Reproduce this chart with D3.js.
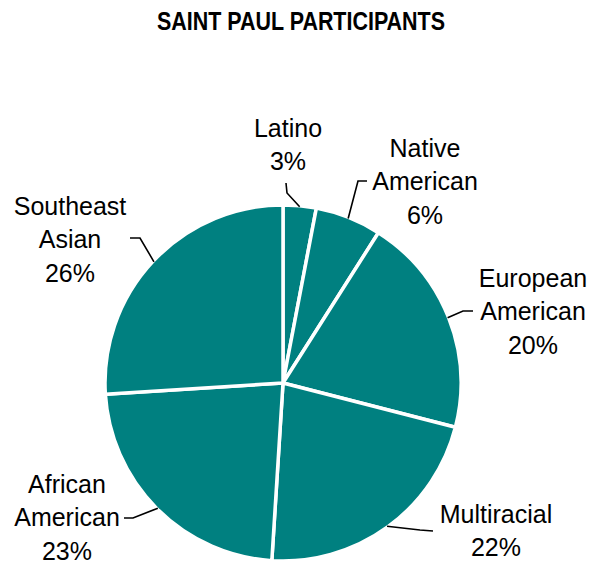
<!DOCTYPE html>
<html>
<head>
<meta charset="utf-8">
<script src="https://cdn.jsdelivr.net/npm/d3@7.9.0/dist/d3.min.js"></script>
<style>
  html, body { margin: 0; padding: 0; background: #fff; }
  svg { display: block; }
  .title { font-family: "Liberation Sans", Arial, sans-serif; font-weight: bold; font-size: 25px; }
  .label { font-family: "Liberation Sans", Arial, sans-serif; font-size: 25px; fill: #000; }
</style>
</head>
<body>
<div id="chart"></div>
<script>
// data
const groups = ['Latino', 'Native American', 'European American', 'Multiracial', 'African American', 'Southeast Asian'];
const shares = [3, 6, 20, 22, 23, 26];
const labelLines = [
  ['Latino', '3%'],
  ['Native', 'American', '6%'],
  ['European', 'American', '20%'],
  ['Multiracial', '22%'],
  ['African', 'American', '23%'],
  ['Southeast', 'Asian', '26%']
];

// label layout: text centre x, first baseline y, leader elbow and end
const labelLayout = [
  { x: 288, y: 137, elbow: [287, 193], end: [286, 183] },
  { x: 425, y: 157, elbow: [358, 181], end: [367, 181] },
  { x: 533, y: 287, elbow: [463, 311], end: [473, 311] },
  { x: 496, y: 523, elbow: [420, 530], end: [433, 531] },
  { x: 67, y: 493, elbow: [133, 518], end: [124, 518] },
  { x: 70, y: 215, elbow: [140, 238], end: [130, 238] }
];

const width = 590, height = 564;
const cx = 283, cy = 383, radius = 178;
const lineGap = 33.3;

const svg = d3.select('#chart').append('svg')
  .attr('width', width).attr('height', height);

// title is a condensed bold face; squeeze to the reference width
svg.append('text')
  .attr('class', 'title')
  .attr('x', 301).attr('y', 30)
  .attr('text-anchor', 'middle')
  .attr('textLength', 288)
  .attr('lengthAdjust', 'spacingAndGlyphs')
  .text('SAINT PAUL PARTICIPANTS');

const data = groups.map((g, i) => ({ group: g, value: shares[i], i }));
const pie = d3.pie().sort(null).value(d => d.value);
const arc = d3.arc().innerRadius(0).outerRadius(radius);
const arcs = pie(data);

const g = svg.append('g').attr('transform', `translate(${cx},${cy})`);
g.selectAll('path')
  .data(arcs)
  .join('path')
  .attr('d', arc)
  .attr('fill', '#008080')
  .attr('stroke', '#fff')
  .attr('stroke-width', 3.5)
  .attr('stroke-linejoin', 'round');

// leader lines from the slice edge at mid angle
const edgeR = 177;
svg.append('g').selectAll('path')
  .data(arcs)
  .join('path')
  .attr('fill', 'none')
  .attr('stroke', '#000')
  .attr('stroke-width', 1.6)
  .attr('d', d => {
    const a = (d.startAngle + d.endAngle) / 2;
    const p = [cx + edgeR * Math.sin(a), cy - edgeR * Math.cos(a)];
    const L = labelLayout[d.index];
    return d3.line()([p, L.elbow, L.end]);
  });

const labels = svg.append('g').selectAll('text')
  .data(arcs)
  .join('text')
  .attr('class', 'label')
  .attr('text-anchor', 'middle')
  .attr('x', d => labelLayout[d.index].x)
  .attr('y', d => labelLayout[d.index].y);

labels.selectAll('tspan')
  .data(d => labelLines[d.index].map((t, k) => ({ t, k, x: labelLayout[d.index].x, y: labelLayout[d.index].y })))
  .join('tspan')
  .attr('x', d => d.x)
  .attr('y', d => d.y + d.k * lineGap)
  .text(d => d.t);
</script>
</body>
</html>
